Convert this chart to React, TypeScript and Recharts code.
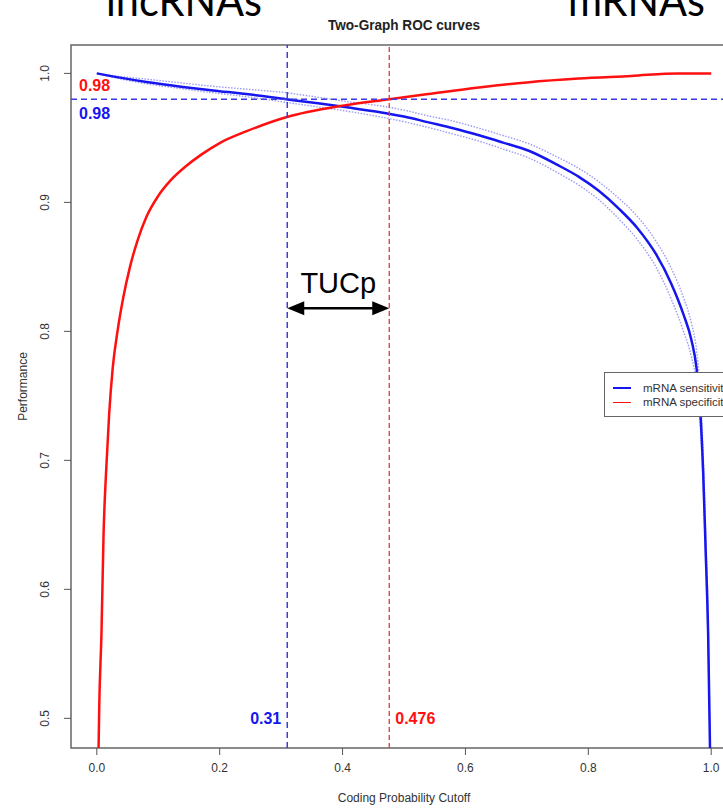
import React from 'react';
import {
  LineChart,
  Line,
  XAxis,
  YAxis,
  ReferenceLine,
  ReferenceArea,
  ReferenceDot,
  Legend,
  Label,
} from 'recharts';

// cutoff values (x) and curve values
const sensCutoff = [0, 0.04, 0.081, 0.14, 0.189, 0.25, 0.308, 0.36, 0.41, 0.459, 0.5, 0.54, 0.58, 0.622, 0.66, 0.703, 0.75, 0.784, 0.817, 0.85, 0.88, 0.91, 0.935, 0.955, 0.968, 0.976, 0.982, 0.987, 0.991, 0.995, 0.999];
const sensitivity = [1.0, 0.9965, 0.9933, 0.9895, 0.9868, 0.9836, 0.98, 0.9768, 0.9735, 0.97, 0.9665, 0.962, 0.9575, 0.952, 0.9465, 0.94, 0.929, 0.92, 0.909, 0.895, 0.88, 0.86, 0.837, 0.813, 0.793, 0.772, 0.74, 0.69, 0.63, 0.566, 0.45];
// faint replicate curves around the sensitivity curve
const sensRepHigh = [1.0, 0.9975, 0.9955, 0.9925, 0.99, 0.9875, 0.985, 0.9815, 0.978, 0.975, 0.9715, 0.967, 0.963, 0.9575, 0.952, 0.9455, 0.935, 0.9265, 0.916, 0.903, 0.889, 0.87, 0.849, 0.826, 0.806, 0.786, 0.755, 0.705, 0.645, 0.58, 0.45];
const sensRepLow = [1.0, 0.9955, 0.992, 0.988, 0.985, 0.9815, 0.9775, 0.974, 0.9705, 0.9665, 0.9625, 0.958, 0.953, 0.9475, 0.9415, 0.9345, 0.923, 0.9135, 0.902, 0.887, 0.871, 0.85, 0.825, 0.8, 0.78, 0.76, 0.728, 0.68, 0.62, 0.555, 0.45];

const specCutoff = [0.002, 0.004, 0.0076, 0.011, 0.015, 0.02, 0.026, 0.034, 0.043, 0.054, 0.066, 0.081, 0.1, 0.12, 0.145, 0.17, 0.2, 0.243, 0.308, 0.4, 0.476, 0.54, 0.622, 0.7, 0.784, 0.87, 0.946, 1.0];
const specificity = [0.45, 0.51, 0.566, 0.643, 0.69, 0.735, 0.772, 0.801, 0.826, 0.85, 0.87, 0.889, 0.905, 0.917, 0.928, 0.937, 0.946, 0.955, 0.966, 0.975, 0.98, 0.984, 0.989, 0.993, 0.996, 0.998, 1.0, 1.0];

const xTicks = [0, 0.2, 0.4, 0.6, 0.8, 1.0];
const yTicks = [0.5, 0.6, 0.7, 0.8, 0.9, 1.0];

const sensCut = 0.31;
const specCut = 0.476;
const perfLevel = 0.98;
const arrowLevel = 0.818;
const cutLabelLevel = 0.5;

const X_MIN = -0.042;
const X_MAX = 1.042;
const Y_MIN = 0.477;
const Y_MAX = 1.022;

const FONT = '"Liberation Sans", Arial, Helvetica, sans-serif';
const BLUE = '#1616ee';
const RED = '#ff1010';
const FAINT = '#9a9af8';

const sensData = sensCutoff.map((x, i) => ({
  x,
  main: sensitivity[i],
  hi: sensRepHigh[i],
  lo: sensRepLow[i],
}));
const specData = specCutoff.map((x, i) => ({ x, spec: specificity[i] }));

const XTick = ({ x, y, payload }: any) => (
  <text x={x} y={y + 14} textAnchor="middle" fill="#333" fontSize={12} fontFamily={FONT}>
    {Number(payload.value).toFixed(1)}
  </text>
);

const YTick = ({ x, y, payload }: any) => (
  <text
    x={x}
    y={y}
    transform={`rotate(-90, ${x}, ${y})`}
    textAnchor="middle"
    fill="#333"
    fontSize={12}
    fontFamily={FONT}
  >
    {Number(payload.value).toFixed(1)}
  </text>
);

// double headed arrow marking the gap between the two cutoffs
const ArrowShape = (props: any) => {
  const { x1, y1, x2 } = props;
  const head = 17;
  const half = 7;
  return (
    <g>
      <line x1={x1 + head - 2} y1={y1} x2={x2 - head + 2} y2={y1} stroke="#000" strokeWidth={2.5} />
      <polygon points={`${x1},${y1} ${x1 + head},${y1 - half} ${x1 + head},${y1 + half}`} fill="#000" />
      <polygon points={`${x2},${y1} ${x2 - head},${y1 - half} ${x2 - head},${y1 + half}`} fill="#000" />
      <text x={(x1 + x2) / 2} y={y1 - 15} textAnchor="middle" fontSize={29} fontFamily={FONT} fill="#000">
        TUCp
      </text>
    </g>
  );
};

const LegendBox = ({ payload }: any) => {
  const items = (payload || []).filter((e: any) => e.type !== 'none' && e.value !== 'hi' && e.value !== 'lo');
  return (
    <div
      style={{
        border: '1px solid #666',
        background: '#fff',
        width: 150,
        height: 45,
        boxSizing: 'border-box',
        padding: '8px 0 0 8px',
        fontFamily: FONT,
        fontSize: 11.5,
        color: '#333',
      }}
    >
      {items.map((entry: any, i: number) => {
        const color = (entry.payload && entry.payload.stroke) || entry.color;
        return (
          <div key={`leg-${i}`} style={{ display: 'flex', alignItems: 'center', height: 14, whiteSpace: 'nowrap' }}>
            <span
              style={{
                display: 'inline-block',
                width: 18,
                height: 0,
                borderTop: `${i === 0 ? 2 : 1.5}px solid ${color}`,
                marginRight: 12,
              }}
            />
            {entry.value}
          </div>
        );
      })}
    </div>
  );
};

const App: React.FC = () => {
  return (
    <div style={{ position: 'absolute', left: 0, top: 0, width: 723, height: 809, overflow: 'hidden', background: '#fff' }}>
      <svg width={723} height={60} style={{ position: 'absolute', left: 0, top: 0, zIndex: 2 }}>
        <text x={106} y={16} fontSize={45} fontFamily="Lato, sans-serif" textLength={156} lengthAdjust="spacingAndGlyphs" fill="#000">
          lncRNAs
        </text>
        <text x={568} y={16} fontSize={45} fontFamily="Lato, sans-serif" textLength={137} lengthAdjust="spacingAndGlyphs" fill="#000">
          mRNAs
        </text>
        <text x={404} y={30} fontSize={14} fontWeight="bold" fontFamily={FONT} textAnchor="middle" textLength={152} lengthAdjust="spacingAndGlyphs" fill="#222">
          Two-Graph ROC curves
        </text>
      </svg>
      <LineChart width={760} height={809} margin={{ top: 45, right: 23, bottom: 21, left: 21 }}>
        <XAxis
          dataKey="x"
          type="number"
          domain={[X_MIN, X_MAX]}
          allowDataOverflow
          ticks={xTicks}
          tick={<XTick />}
          tickSize={7}
          tickMargin={3}
          axisLine={false}
          tickLine={{ stroke: '#555' }}
          height={40}
          label={{
            content: ({ viewBox }: any) => (
              <text x={viewBox.x + viewBox.width / 2} y={802} textAnchor="middle" fontSize={12} fontFamily={FONT} fill="#333">
                Coding Probability Cutoff
              </text>
            ),
          }}
        />
        <YAxis
          type="number"
          domain={[Y_MIN, Y_MAX]}
          allowDataOverflow
          ticks={yTicks}
          tick={<YTick />}
          tickSize={7}
          tickMargin={15}
          axisLine={false}
          tickLine={{ stroke: '#555' }}
          width={50}
          label={{
            content: ({ viewBox }: any) => {
              const cx = 27;
              const cy = viewBox.y + viewBox.height / 2 - 10;
              return (
                <text x={cx} y={cy} transform={`rotate(-90, ${cx}, ${cy})`} textAnchor="middle" fontSize={12} fontFamily={FONT} fill="#333">
                  Performance
                </text>
              );
            },
          }}
        />
        <ReferenceArea x1={X_MIN} x2={X_MAX} y1={Y_MIN} y2={Y_MAX} fill="none" stroke="#666" strokeWidth={1.5} ifOverflow="visible" />

        <Line data={sensData} dataKey="hi" type="monotone" stroke={FAINT} strokeWidth={1.4} strokeDasharray="1.5 1.5" dot={false} legendType="none" isAnimationActive={false} />
        <Line data={sensData} dataKey="lo" type="monotone" stroke={FAINT} strokeWidth={1.4} strokeDasharray="1.5 1.5" dot={false} legendType="none" isAnimationActive={false} />
        <Line data={sensData} dataKey="main" name="mRNA sensitivity" type="monotone" stroke={BLUE} strokeWidth={2.5} dot={false} isAnimationActive={false} />
        <Line data={specData} dataKey="spec" name="mRNA specificity" type="monotone" stroke={RED} strokeWidth={2.5} dot={false} isAnimationActive={false} />

        <ReferenceLine x={sensCut} stroke="#3b3be6" strokeWidth={1.5} strokeDasharray="6 4" />
        <ReferenceLine x={specCut} stroke="#e53535" strokeWidth={1.3} strokeDasharray="5 3" />
        <ReferenceLine y={perfLevel} stroke="#3b3be6" strokeWidth={1.5} strokeDasharray="6 4">
          <Label value="0.98" position="insideBottomLeft" offset={8} fill={RED} fontSize={16} fontWeight="bold" fontFamily={FONT} />
          <Label value="0.98" position="insideTopLeft" offset={8} fill={BLUE} fontSize={16} fontWeight="bold" fontFamily={FONT} />
        </ReferenceLine>
        <ReferenceDot x={sensCut} y={cutLabelLevel} r={1} fill="none" stroke="none"
          label={{ value: String(sensCut), position: 'left', offset: 5, fill: BLUE, fontSize: 16, fontWeight: 'bold', fontFamily: FONT }} />
        <ReferenceDot x={specCut} y={cutLabelLevel} r={1} fill="none" stroke="none"
          label={{ value: String(specCut), position: 'right', offset: 5, fill: RED, fontSize: 16, fontWeight: 'bold', fontFamily: FONT }} />
        <ReferenceLine
          segment={[{ x: sensCut, y: arrowLevel }, { x: specCut, y: arrowLevel }]}
          shape={ArrowShape}
        />

        <Legend
          layout="vertical"
          align="center"
          verticalAlign="middle"
          wrapperStyle={{ left: 604, top: 372, width: 150 }}
          content={<LegendBox />}
        />
      </LineChart>
    </div>
  );
};

export default App;
